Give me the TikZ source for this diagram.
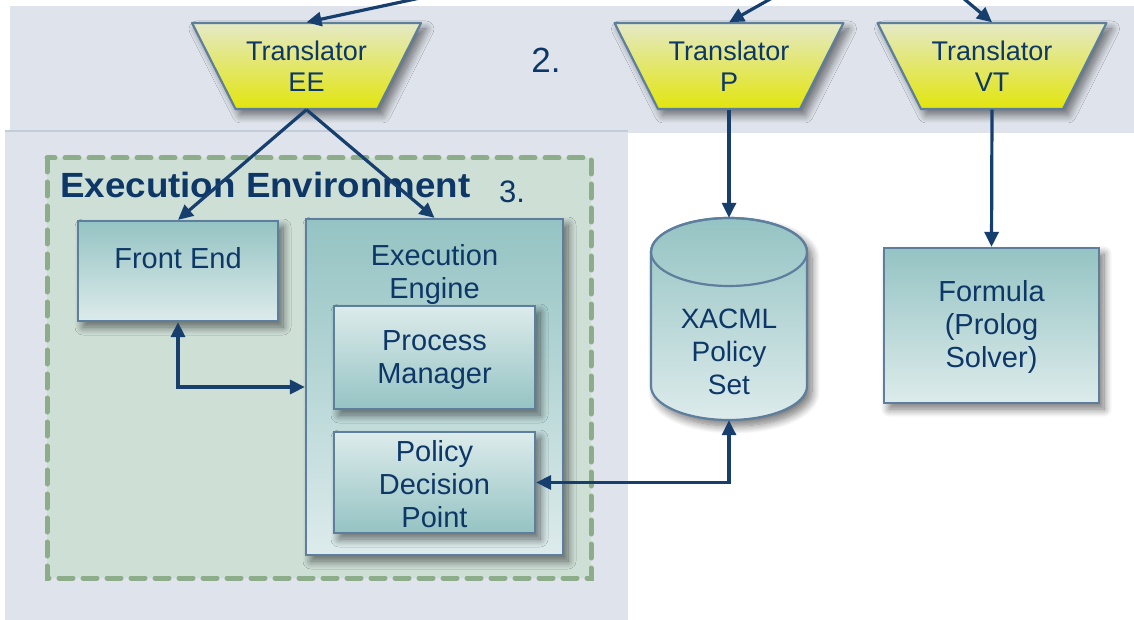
\documentclass[tikz,border=0pt]{standalone}
\usepackage{fontspec}
\setmainfont{Liberation Sans}
\usetikzlibrary{arrows.meta,shadows.blur}

\definecolor{navy}{HTML}{0D3767}
\definecolor{arrowc}{HTML}{173F6E}
\definecolor{bandc}{HTML}{DFE4EC}
\definecolor{panelline}{HTML}{C3CCD9}
\definecolor{envfill}{HTML}{CEDFD6}
\definecolor{envdash}{HTML}{8DAD8A}
\definecolor{boxline}{HTML}{5D7E9C}
\definecolor{tealdark}{HTML}{95C3C3}
\definecolor{teallight}{HTML}{DDEBEB}
\definecolor{yeltop}{HTML}{E4E9C6}
\definecolor{yelbot}{HTML}{E2E50C}

\tikzset{
  softshadow/.style={blur shadow={shadow xshift=5pt, shadow yshift=-6pt,
      shadow blur steps=12, shadow blur radius=8pt, shadow opacity=55}},
  trapfill/.style={draw=boxline, line width=2.2pt, line join=round,
      top color=yeltop, bottom color=yelbot, softshadow},
  translbl/.style={text=navy, align=center, inner sep=0pt,
      minimum width=142pt, minimum height=87pt,
      font=\fontsize{27}{31}\selectfont},
  tealdown/.style={rectangle, draw=boxline, line width=2.2pt,
      top color=tealdark, bottom color=teallight, softshadow},
  tealup/.style={tealdown, top color=teallight, bottom color=tealdark},
  lbl/.style={text=navy, align=center, inner sep=0pt, font=\fontsize{29}{33}\selectfont},
  num/.style={text=navy, inner sep=0pt},
  tip/.style={Triangle[length=15pt,width=14pt]},
  arr/.style={draw=arrowc, line width=3.2pt, -{Triangle[length=15pt,width=14pt]}},
  arrboth/.style={draw=arrowc, line width=3.2pt,
      {Triangle[length=15pt,width=14pt]}-{Triangle[length=15pt,width=14pt]}},
}

% trapezoid translator: #1 name, #2 centre x, #3 label
\newcommand\transbox[3]{%
  \path[trapfill] (#2-114.5,23) -- (#2+114.5,23) -- (#2+71,109) -- (#2-71,109) -- cycle;
  \node[translbl] (#1) at (#2,66) {#3};
}

\begin{document}
\begin{tikzpicture}[x=1pt,y=-1pt]
\useasboundingbox (0,0) rectangle (1134,620);

% background bands
\fill[bandc] (10,6) rectangle (1134,133);
\fill[bandc] (5,131) rectangle (628,620);
\draw[panelline, line width=2pt] (5,131) -- (628,131);

% execution environment container
\draw[envdash, fill=envfill, line width=5pt, dash pattern=on 14pt off 10pt,
      line cap=round] (47,158) rectangle (591,578);
\node[anchor=base west, text=navy, inner sep=0pt,
      font=\addfontfeature{FakeStretch=1.05}\fontsize{35}{35}\selectfont\bfseries]
      (envtitle) at (60,198) {Execution Environment};
\node[num, font=\fontsize{31}{31}\selectfont] (three) at (512,192) {3.};
\node[num, font=\fontsize{35}{35}\selectfont] (two) at (546,60) {2.};

% translators
\transbox{tee}{306.5}{Translator\\EE}
\transbox{tp}{729}{Translator\\P}
\transbox{tvt}{992}{Translator\\VT}

% execution environment components
\node[tealdown, minimum width=200pt, minimum height=100pt] (fe) at (178,271) {};
\node[lbl] (fetext) at (178,258) {Front End};
\node[tealdown, minimum width=257pt, minimum height=336pt] (ee) at (434.5,387) {};
\node[lbl] (eetext) at (434.5,275) {Execution\\Engine};
\node[tealup, minimum width=201pt, minimum height=103pt] (pm) at (434.5,357.5) {};
\node[lbl] (pmtext) at (434.5,360) {Process\\Manager};
\node[tealup, minimum width=201pt, minimum height=101pt] (pdp) at (434.5,482.5) {};
\node[lbl] (pdptext) at (434.5,484) {Policy\\Decision\\Point};

% policy store (cylinder)
\path[softshadow, draw=boxline, line width=2.2pt, top color=tealdark, bottom color=teallight]
  (651,252) -- (651,386) arc[start angle=180, end angle=0, x radius=78, y radius=34]
  -- (807,252) arc[start angle=0, end angle=-180, x radius=78, y radius=34] -- cycle;
\draw[boxline, line width=2.2pt] (729,252) ellipse [x radius=78, y radius=34];
\node[minimum width=156pt, minimum height=202pt, inner sep=0pt] (xacml) at (729,319) {};
\node[lbl, font=\fontsize{28}{33}\selectfont] (xacmltext) at (729,352) {XACML\\Policy\\Set};

% formula box
\node[tealdown, minimum width=215pt, minimum height=155pt] (form) at (991.5,325.5) {};
\node[lbl] (formtext) at (991.5,327) {Formula\\(Prolog\\Solver)};

% incoming connectors from above
\coordinate (inEE) at (420,-2);
\coordinate (inP) at (772,-2);
\coordinate (inVT) at (963,-2);
\draw[arr] (inEE) -- (tee.north);
\draw[arr] (inP) -- (tp.north);
\draw[arr] (inVT) -- (tvt.north);

% connectors
\draw[arr] (tee.south) -- (fe.north);
\draw[arr] (tee.south) -- (ee.north);
\draw[arr] (tp.south) -- (xacml.north);
\draw[arr] (tvt.south) -- (form.north);
\draw[arrboth] (fe.south) |- (ee.west);
\draw[arrboth] (pdp.east) -| (xacml.south);
\end{tikzpicture}
\end{document}
